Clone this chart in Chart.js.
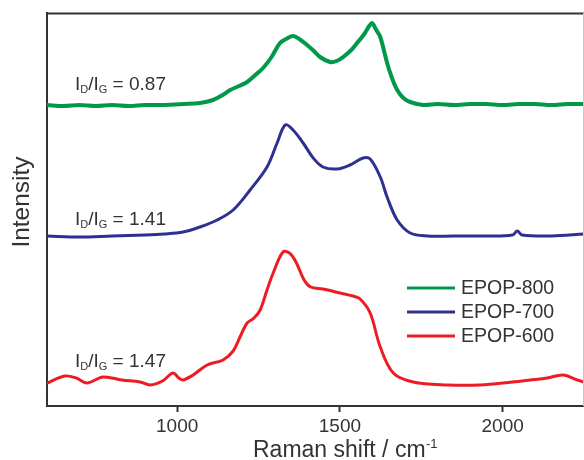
<!DOCTYPE html>
<html>
<head>
<meta charset="utf-8">
<script src="https://cdn.jsdelivr.net/npm/chart.js@4"></script>
<style>
  html, body { margin: 0; padding: 0; background: #fff; overflow: hidden; }
  #wrap { width: 584px; height: 460px; }
</style>
</head>
<body>
<div id="wrap"><canvas id="c" width="584" height="460"></canvas></div>
<script>
// ---- data ----
const seriesNames = ['EPOP-800', 'EPOP-700', 'EPOP-600'];
const ratioValues = ['0.87', '1.41', '1.47'];
const shiftTicks = [1000, 1500, 2000];

const shift800 = [600, 650, 700, 750, 800, 850, 900, 950, 1020, 1070, 1110, 1140, 1163, 1190, 1215, 1240, 1264, 1290, 1316, 1340, 1356, 1375, 1399, 1420, 1439, 1470, 1490, 1510, 1535, 1553, 1575, 1590, 1599, 1610, 1624, 1645, 1660, 1676, 1695, 1716, 1756, 1800, 1850, 1900, 1950, 2000, 2050, 2100, 2150, 2200, 2250];
const int800   = [301, 300, 301, 300, 301, 300, 301, 301, 302, 303, 306, 311, 316, 320, 324, 331, 338, 349, 363, 368, 370, 367, 361, 355, 349, 344, 345, 349, 356, 363, 372, 380, 383, 377, 369, 343, 328, 316, 308, 304, 301, 302, 301, 302, 302, 301, 302, 302, 301, 302, 302];

const shift700 = [600, 700, 800, 900, 960, 1018, 1070, 1123, 1172, 1224, 1276, 1307, 1332, 1356, 1387, 1418, 1448, 1491, 1531, 1571, 1593, 1624, 1645, 1676, 1716, 1768, 1850, 1950, 2030, 2045, 2060, 2150, 2250];
const int700   = [170, 169, 170, 171, 172, 174, 179, 186, 196, 216, 239, 263, 281, 276, 263, 248, 239, 237, 241, 248, 247, 229, 209, 186, 173, 170, 170, 170, 171, 175, 171, 170, 172];

const shift600 = [600, 655, 690, 723, 772, 830, 886, 917, 955, 987, 1005, 1018, 1049, 1092, 1141, 1172, 1193, 1215, 1236, 1255, 1276, 1295, 1325, 1345, 1365, 1390, 1410, 1448, 1501, 1540, 1562, 1593, 1624, 1664, 1725, 1830, 1931, 2030, 2085, 2137, 2186, 2229, 2250];
const int600   = [23, 30, 28, 23, 29, 26, 24, 21, 25, 33, 28, 26, 31, 41, 46, 55, 69, 83, 88, 96, 116, 133, 154, 153, 144, 126, 119, 117, 113, 110, 107, 93, 59, 33, 24, 21, 21, 24, 26, 28, 31, 26, 24];

const seriesColors = ['#00994a', '#2e3192', '#ed1c24'];

function pts(xs, ys) { return xs.map((x, i) => ({ x: x, y: ys[i] })); }

const TEXT = '#333333';
const FONT = "'Liberation Sans', Arial, Helvetica, sans-serif";

// ---- extra drawing: frame, legend, ratio labels, axis titles ----
const decor = {
  id: 'decor',
  afterDraw(chart) {
    const ctx = chart.ctx;
    const a = chart.chartArea;
    const xs = chart.scales.x, ys = chart.scales.y;
    ctx.save();
    // frame top / right
    ctx.strokeStyle = '#333';
    ctx.lineWidth = 2;
    ctx.beginPath();
    ctx.moveTo(a.left - 1, a.top + 0.5);
    ctx.lineTo(a.right, a.top + 0.5);
    ctx.stroke();
    ctx.strokeStyle = '#c8c8c8';
    ctx.lineWidth = 1;
    ctx.beginPath();
    ctx.moveTo(a.right - 0.5, a.top);
    ctx.lineTo(a.right - 0.5, a.bottom);
    ctx.stroke();

    // legend
    const lx0 = 407, lx1 = 455, ly0 = 288, lstep = 24;
    ctx.font = '19.5px ' + FONT;
    ctx.textBaseline = 'middle';
    ctx.textAlign = 'left';
    chart.data.datasets.forEach((ds, i) => {
      const y = ly0 + i * lstep;
      ctx.strokeStyle = ds.borderColor;
      ctx.lineWidth = 3;
      ctx.beginPath();
      ctx.moveTo(lx0, y);
      ctx.lineTo(lx1, y);
      ctx.stroke();
      ctx.fillStyle = TEXT;
      ctx.fillText(ds.label, 461, y + 1);
    });

    // I_D/I_G labels, anchored in data space
    const anchors = [[686, 316], [686, 181], [686, 39]];
    ctx.fillStyle = TEXT;
    ctx.textBaseline = 'alphabetic';
    ratioValues.forEach((v, i) => {
      let x = xs.getPixelForValue(anchors[i][0]);
      const y = ys.getPixelForValue(anchors[i][1]);
      const big = '19px ' + FONT, small = '11px ' + FONT;
      const parts = [['I', big, 0], ['D', small, 3], ['/I', big, 0], ['G', small, 3], [' = ' + v, big, 0]];
      parts.forEach(p => {
        ctx.font = p[1];
        ctx.fillText(p[0], x, y + p[2]);
        x += ctx.measureText(p[0]).width;
      });
    });

    // x axis title with superscript
    ctx.font = '23px ' + FONT;
    const t = 'Raman shift / cm';
    const tx = a.left + 206, ty = 457;
    ctx.fillText(t, tx, ty);
    const w = ctx.measureText(t).width;
    ctx.font = '13px ' + FONT;
    ctx.fillText('-1', tx + w + 0.5, ty - 9);

    // y axis title
    ctx.translate(29, 202);
    ctx.rotate(-Math.PI / 2);
    ctx.font = '24.5px ' + FONT;
    ctx.textAlign = 'center';
    ctx.textBaseline = 'alphabetic';
    ctx.fillText('Intensity', 0, 0);
    ctx.restore();
  }
};

new Chart(document.getElementById('c'), {
  type: 'line',
  data: {
    datasets: [
      { label: seriesNames[0], data: pts(shift800, int800), borderColor: seriesColors[0], borderWidth: 4 },
      { label: seriesNames[1], data: pts(shift700, int700), borderColor: seriesColors[1], borderWidth: 3 },
      { label: seriesNames[2], data: pts(shift600, int600), borderColor: seriesColors[2], borderWidth: 3 }
    ]
  },
  options: {
    responsive: false,
    animation: false,
    layout: { padding: { top: 13, right: 0, left: 0, bottom: 0 } },
    elements: {
      point: { radius: 0 },
      line: { tension: 0.35, fill: false, borderJoinStyle: 'round', borderCapStyle: 'round' }
    },
    plugins: { legend: { display: false }, tooltip: { enabled: false } },
    scales: {
      x: {
        type: 'linear',
        min: 600,
        max: 2250,
        afterFit(s) { s.height = 54; },
        afterBuildTicks(s) { s.ticks = shiftTicks.map(v => ({ value: v })); },
        grid: { display: true, drawOnChartArea: false, drawTicks: true, tickLength: 6, tickWidth: 2, tickColor: '#333' },
        border: { display: true, color: '#333', width: 2 },
        ticks: { color: TEXT, font: { family: FONT, size: 19 }, padding: 3, maxRotation: 0, callback: v => String(v) },
        title: { display: false }
      },
      y: {
        min: 0,
        max: 393,
        afterFit(s) { s.width = 47; },
        grid: { display: true, drawOnChartArea: false, drawTicks: false },
        border: { display: true, color: '#333', width: 2 },
        ticks: { display: false },
        title: { display: false }
      }
    }
  },
  plugins: [decor]
});
</script>
</body>
</html>
